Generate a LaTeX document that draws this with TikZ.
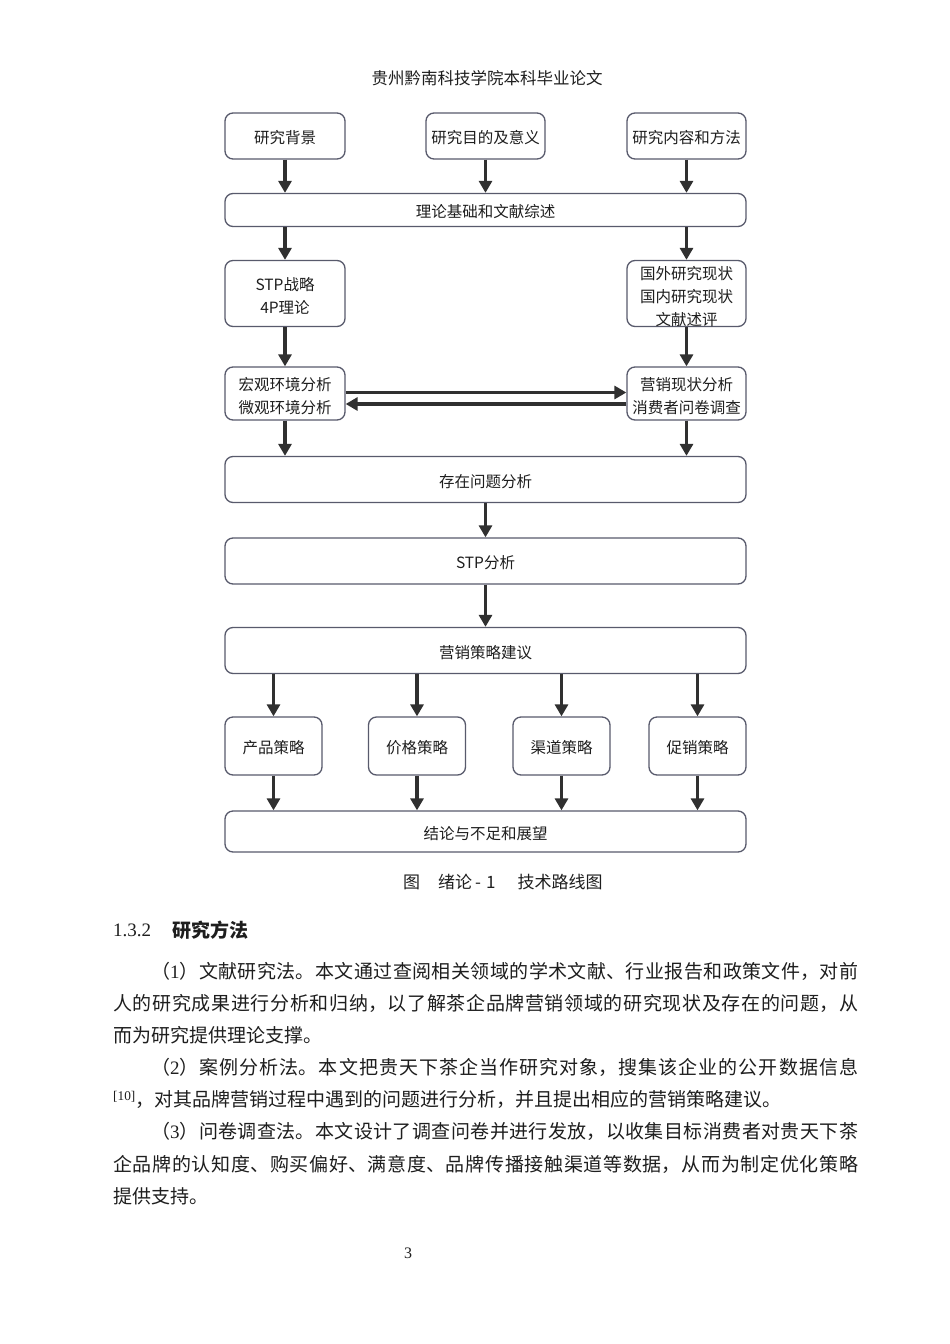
\documentclass[tikz,border=0pt]{standalone}
\usepackage{fontspec}
\setmainfont{Noto Sans CJK SC}
\newfontfamily\latfont{Liberation Serif}
\usetikzlibrary{arrows.meta}
\XeTeXlinebreaklocale "zh"
\XeTeXlinebreakskip=0pt plus 2pt
\definecolor{bordc}{RGB}{88,90,108}
\definecolor{arrc}{RGB}{48,48,48}
\definecolor{txtc}{RGB}{30,30,30}
\newcommand{\topstrut}{\rule{0pt}{18.5pt}}
\begin{document}
\begin{tikzpicture}[x=1pt,y=-1pt,
  flowbox/.style={draw=bordc, line width=1.3pt, rounded corners=8pt, inner sep=0pt,
    align=center, font=\fontsize{15.5}{23}\selectfont, text=txtc,
    execute at begin node={\rule{0pt}{16.8pt}}},
  smallbox/.style={flowbox, minimum width=120pt},
  widebox/.style={flowbox, minimum width=521pt},
  stratbox/.style={flowbox, minimum width=97pt, minimum height=58pt},
  arr/.style={draw=arrc, line width=3.6pt, -{Triangle[length=12pt,width=13pt]}},
  plain/.style={inner sep=0pt, text=txtc}
]
\path[use as bounding box, fill=white] (0,0) rectangle (950,1344);

% header
\node[plain, font=\fontsize{16.5}{16.5}\selectfont] (head) at (487,78) {贵州黔南科技学院本科毕业论文};

% row 1
\node[smallbox, minimum height=46pt] (bg)  at (285,136)   {研究背景};
\node[smallbox, minimum width=119pt, minimum height=46pt] (pur) at (485.5,136) {研究目的及意义};
\node[smallbox, minimum width=119pt, minimum height=46pt] (con) at (686.5,136) {研究内容和方法};

\node[widebox, minimum height=33pt] (theo) at (485.5,210) {理论基础和文献综述};

\node[smallbox, minimum height=66pt] (stp) at (285,293.5) {\topstrut STP战略\\4P理论};
\node[smallbox, minimum width=119pt, minimum height=66pt] (lit) at (686.5,293.5) {\topstrut 国外研究现状\\国内研究现状\\文献述评};

\node[smallbox, minimum height=53pt] (mac) at (285,393.5) {\topstrut 宏观环境分析\\微观环境分析};
\node[smallbox, minimum width=119pt, minimum height=53pt] (mkt) at (686.5,393.5) {\topstrut 营销现状分析\\消费者问卷调查};

\node[widebox, minimum height=46pt] (prob) at (485.5,479.5) {存在问题分析};
\node[widebox, minimum height=46pt] (stpa) at (485.5,561) {STP分析};
\node[widebox, minimum height=46pt] (sug)  at (485.5,650.5) {营销策略建议};

\node[stratbox] (prod)  at (273.5,746) {产品策略};
\node[stratbox] (price) at (417,746)   {价格策略};
\node[stratbox] (chan)  at (561.5,746) {渠道策略};
\node[stratbox] (promo) at (697.5,746) {促销策略};

\node[widebox, minimum height=41pt] (concl) at (485.5,831.5) {结论与不足和展望};

% arrows
\draw[arr] (bg.south)  -- (bg.south |- theo.north);
\draw[arr] (pur.south) -- (pur.south |- theo.north);
\draw[arr] (con.south) -- (con.south |- theo.north);
\draw[arr] (theo.south -| stp.north) -- (stp.north);
\draw[arr] (theo.south -| lit.north) -- (lit.north);
\draw[arr] (stp.south) -- (mac.north);
\draw[arr] (lit.south) -- (mkt.north);
\draw[arr] ([yshift=1pt]mac.east) -- ([yshift=1pt]mkt.west);
\draw[arr] ([yshift=-10.5pt]mkt.west) -- ([yshift=-10.5pt]mac.east);
\draw[arr] (mac.south) -- (mac.south |- prob.north);
\draw[arr] (mkt.south) -- (mkt.south |- prob.north);
\draw[arr] (prob.south) -- (stpa.north);
\draw[arr] (stpa.south) -- (sug.north);
\foreach \b in {prod,price,chan,promo}{
  \draw[arr] (sug.south -| \b.north) -- (\b.north);
  \draw[arr] (\b.south) -- (\b.south |- concl.north);
}

% caption
\node[plain, anchor=west, font=\fontsize{17}{17}\selectfont] (cap) at (403,882) {图\hspace{18pt}绪论\hspace{3pt}-\hspace{5pt}1\hspace{22pt}技术路线图};

% section heading
\node[plain, anchor=west, font=\fontsize{19}{19}\latfont] (hnum) at (113,930) {1.3.2};
\node[plain, anchor=west, font=\fontsize{19}{19}\selectfont\bfseries] (htitle) at (172,930) {研究方法};

% body text
\node[plain, anchor=north west, text width=745pt, align=justify, font=\fontsize{19}{32.1}\selectfont] (body) at (113,958.2) {%
\noindent\rule{0pt}{20pt}\hspace*{2em}（{\latfont 1}）文献研究法。本文通过查阅相关领域的学术文献、行业报告和政策文件，对前\linebreak 人的研究成果进行分析和归纳，以了解茶企品牌营销领域的研究现状及存在的问题，从\linebreak 而为研究提供理论支撑。\par
\noindent\hspace*{2em}（{\latfont 2}）案例分析法。本文把贵天下茶企当作研究对象，搜集该企业的公开数据信息\linebreak \textsuperscript{\latfont [10]}，对其品牌营销过程中遇到的问题进行分析，并且提出相应的营销策略建议。\par
\noindent\hspace*{2em}（{\latfont 3}）问卷调查法。本文设计了调查问卷并进行发放，以收集目标消费者对贵天下茶\linebreak 企品牌的认知度、购买偏好、满意度、品牌传播接触渠道等数据，从而为制定优化策略\linebreak 提供支持。\par}; 

% page number
\node[plain, font=\fontsize{16}{16}\latfont] (pnum) at (408,1253) {3};
\end{tikzpicture}
\end{document}
